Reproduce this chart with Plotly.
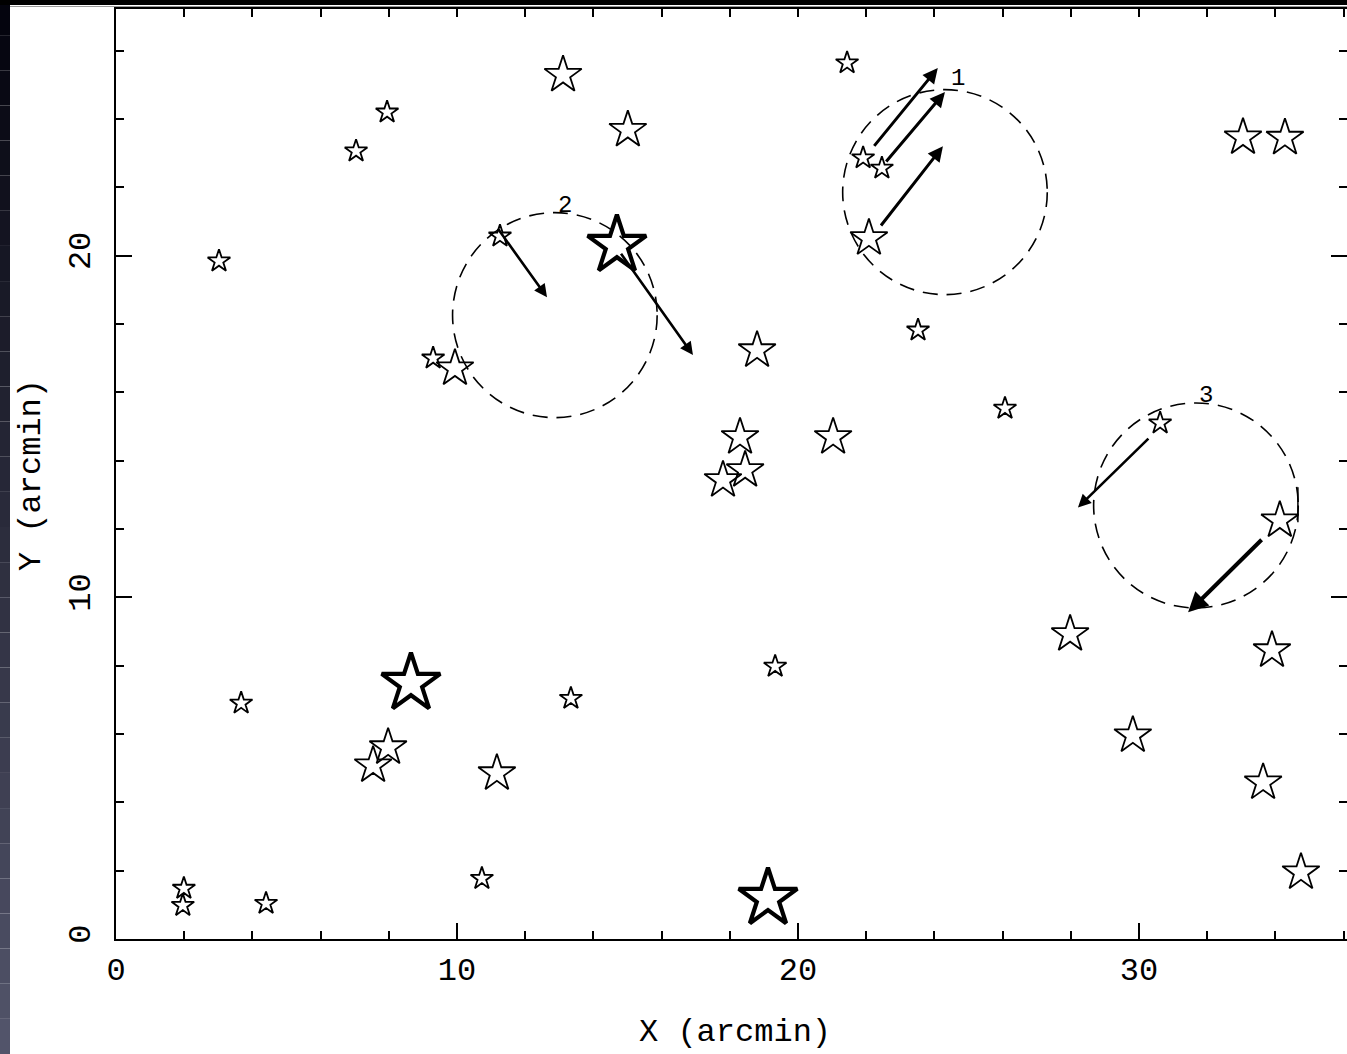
import plotly.graph_objects as go

# ---------------- data ----------------
star_x = [13.11, 21.44, 7.95, 7.04, 15.01, 33.05, 34.28, 3.02, 11.26, 14.69,
          9.30, 9.94, 18.80, 23.52, 21.91, 22.46, 22.08, 26.07, 30.62, 34.13,
          18.30, 21.03, 18.45, 17.80, 27.98, 33.90, 19.33, 13.34, 3.67, 8.65,
          7.98, 7.54, 11.17, 29.82, 33.64, 34.75, 10.73, 1.99, 1.96, 4.40, 19.12]
star_y = [25.29, 25.64, 24.20, 23.06, 23.68, 23.46, 23.45, 19.84, 20.57, 20.30,
          17.00, 16.70, 17.23, 17.82, 22.86, 22.56, 20.51, 15.53, 15.10, 12.25,
          14.69, 14.69, 13.72, 13.43, 8.92, 8.45, 7.98, 7.04, 6.90, 7.48,
          5.61, 5.08, 4.85, 5.96, 4.58, 1.95, 1.77, 1.48, 0.98, 1.04, 1.19]
star_class = ["M", "S", "S", "S", "M", "M", "M", "S", "S", "L",
              "S", "M", "M", "S", "S", "S", "M", "S", "S", "M",
              "M", "M", "M", "M", "M", "M", "S", "S", "S", "L",
              "M", "M", "M", "M", "M", "M", "S", "S", "S", "S", "L"]

# proper-motion style arrows: tail (x0,y0) -> head (x1,y1)
arrow_x0 = [22.20, 22.55, 22.40, 11.17, 14.78, 30.32, 33.64]
arrow_y0 = [23.17, 22.71, 20.84, 20.83, 20.10, 14.69, 11.73]
arrow_x1 = [24.10, 24.31, 24.25, 12.64, 16.92, 28.21, 31.44]
arrow_y1 = [25.49, 24.79, 23.20, 18.78, 17.09, 12.63, 9.56]
arrow_w = [3.0, 3.0, 3.0, 2.6, 2.6, 2.6, 4.0]

# dashed circles
circle_label = ["1", "2", "3"]
circle_cx = [24.31, 12.87, 31.67]
circle_cy = [21.86, 18.26, 12.69]
circle_r = [3.0, 3.0, 3.0]
label_x = [24.69, 13.17, 31.96]
label_y = [25.20, 21.48, 15.91]

# small vertical mark near circle 3
mark_x = [34.66, 34.66]
mark_y = [12.20, 13.22]

x_range = [0, 36.1]
y_range = [0, 27.22]
x_title = "X (arcmin)"
y_title = "Y (arcmin)"

# ---------------- figure ----------------
W, H = 1347, 1054
ML, MR, MT, MB = 116, 0, 9, 115
PW, PH = W - ML - MR, H - MT - MB

size_map = {"S": 17, "M": 28, "L": 44}
lw_map = {"S": 1.8, "M": 1.8, "L": 4.2}

fig = go.Figure()

for cls in ["S", "M", "L"]:
    xs = [x for x, c in zip(star_x, star_class) if c == cls]
    ys = [y for y, c in zip(star_y, star_class) if c == cls]
    fig.add_trace(go.Scatter(
        x=xs, y=ys, mode="markers",
        marker=dict(symbol="star-open", size=size_map[cls], color="black",
                    line=dict(width=lw_map[cls], color="black")),
        showlegend=False, hoverinfo="skip"))

fig.add_trace(go.Scatter(x=mark_x, y=mark_y, mode="lines",
                         line=dict(color="black", width=1.5),
                         showlegend=False, hoverinfo="skip"))

# invisible trace on mirrored axes so top/right ticks are drawn
fig.add_trace(go.Scatter(x=star_x[:1], y=star_y[:1], xaxis="x2", yaxis="y2",
                         mode="markers", marker=dict(opacity=0),
                         showlegend=False, hoverinfo="skip"))

for cx, cy, r in zip(circle_cx, circle_cy, circle_r):
    fig.add_shape(type="circle", xref="x", yref="y",
                  x0=cx - r, x1=cx + r, y0=cy - r, y1=cy + r,
                  line=dict(color="black", width=1.6, dash="15px,9px"))

for x0, y0, x1, y1, w in zip(arrow_x0, arrow_y0, arrow_x1, arrow_y1, arrow_w):
    fig.add_annotation(x=x1, y=y1, ax=x0, ay=y0, xref="x", yref="y",
                       axref="x", ayref="y", text="", showarrow=True,
                       arrowhead=2, arrowsize=1.0, arrowwidth=w,
                       arrowcolor="black", standoff=0, startstandoff=0)

for t, x, y in zip(circle_label, label_x, label_y):
    fig.add_annotation(x=x, y=y, xref="x", yref="y", text=t, showarrow=False,
                       font=dict(family="Liberation Mono", size=24, color="black"))

# ---- decorative dark frame of the original slide ----
def px2paper_x(px):
    return (px - ML) / PW

def px2paper_y(py):
    return (H - MB - py) / PH

nb = 30
for i in range(nb):
    t = i / (nb - 1)
    col = "rgb(%d,%d,%d)" % (int(4 + 78 * t), int(4 + 80 * t), int(14 + 92 * t))
    fig.add_shape(type="rect", xref="paper", yref="paper", layer="below",
                  x0=px2paper_x(0), x1=px2paper_x(10),
                  y0=px2paper_y(H * (i + 1) / nb), y1=px2paper_y(H * i / nb),
                  line=dict(width=0), fillcolor=col)
fig.add_shape(type="rect", xref="paper", yref="paper", layer="below",
              x0=px2paper_x(0), x1=px2paper_x(W + 5),
              y0=px2paper_y(5), y1=px2paper_y(0),
              line=dict(width=0), fillcolor="black")
fig.add_shape(type="line", xref="paper", yref="paper", layer="below",
              x0=px2paper_x(10), x1=px2paper_x(W + 5),
              y0=px2paper_y(6.5), y1=px2paper_y(6.5),
              line=dict(width=1, color="#9a9a9a"))

font = dict(family="Liberation Mono", size=32, color="black")

# axis titles placed as annotations (plotly clamps titles into the margins)
fig.add_annotation(text=x_title, xref="paper", yref="paper",
                   x=px2paper_x(735), y=px2paper_y(1032),
                   xanchor="center", yanchor="middle", showarrow=False, font=font)
fig.add_annotation(text=y_title, xref="paper", yref="paper",
                   x=px2paper_x(31), y=px2paper_y(475), textangle=-90,
                   xanchor="center", yanchor="middle", showarrow=False, font=font)

axis_common = dict(showgrid=False, zeroline=False, ticks="inside",
                   tickcolor="black", tickwidth=1.6, ticklen=16,
                   tick0=0, dtick=10,
                   minor=dict(ticks="inside", dtick=2, ticklen=8,
                              tickwidth=1.6, tickcolor="black"))

fig.update_layout(
    width=W, height=H,
    margin=dict(l=ML, r=MR, t=MT, b=MB, pad=0),
    paper_bgcolor="white", plot_bgcolor="white",
    showlegend=False,
    xaxis=dict(range=x_range, showline=True, linecolor="black", linewidth=2,
               tickfont=font, ticklabelstandoff=1, automargin=False,
               **axis_common),
    yaxis=dict(range=y_range, showline=True, linecolor="black", linewidth=2,
               tickfont=font, tickangle=-90, ticklabelstandoff=11,
               automargin=False, **axis_common),
    xaxis2=dict(range=x_range, overlaying="x", side="top", anchor="y",
                showline=True, linecolor="black", linewidth=2,
                showticklabels=False, ticklen=8, **{k: v for k, v in axis_common.items() if k != "ticklen"}),
    yaxis2=dict(range=y_range, overlaying="y", side="right", anchor="x",
                showline=False, showticklabels=False, **axis_common),
)

fig.write_html("out.html")
